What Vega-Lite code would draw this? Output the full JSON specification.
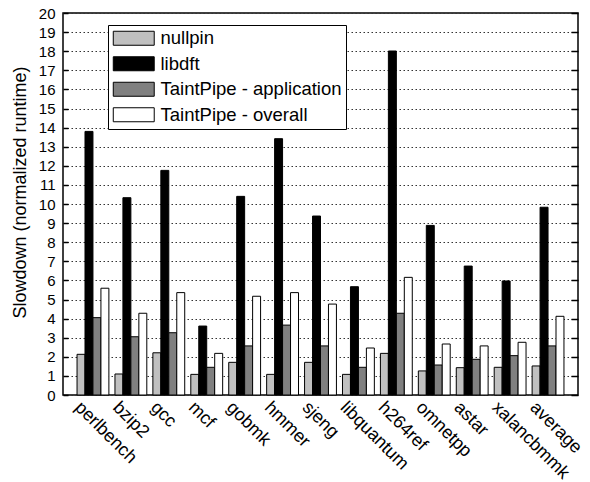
{
  "$schema": "https://vega.github.io/schema/vega-lite/v6.json",
  "autosize": {"type": "none"},
  "width": 515,
  "height": 382,
  "padding": {"left": 63, "top": 13, "right": 12, "bottom": 87},
  "background": "white",
  "config": {
    "font": "Liberation Sans",
    "view": {"stroke": "black", "strokeWidth": 1.5},
    "axis": {"labelFont": "Liberation Sans", "titleFont": "Liberation Sans", "labelColor": "black", "titleColor": "black", "titleFontWeight": "normal"}
  },
  "data": {"values": [
    {"bench": "perlbench", "series": "nullpin", "value": 2.13},
    {"bench": "perlbench", "series": "libdft", "value": 13.8},
    {"bench": "perlbench", "series": "TaintPipe - application", "value": 4.05},
    {"bench": "perlbench", "series": "TaintPipe - overall", "value": 5.59},
    {"bench": "bzip2", "series": "nullpin", "value": 1.1},
    {"bench": "bzip2", "series": "libdft", "value": 10.33},
    {"bench": "bzip2", "series": "TaintPipe - application", "value": 3.05},
    {"bench": "bzip2", "series": "TaintPipe - overall", "value": 4.28},
    {"bench": "gcc", "series": "nullpin", "value": 2.21},
    {"bench": "gcc", "series": "libdft", "value": 11.76},
    {"bench": "gcc", "series": "TaintPipe - application", "value": 3.26},
    {"bench": "gcc", "series": "TaintPipe - overall", "value": 5.36},
    {"bench": "mcf", "series": "nullpin", "value": 1.08},
    {"bench": "mcf", "series": "libdft", "value": 3.61},
    {"bench": "mcf", "series": "TaintPipe - application", "value": 1.45},
    {"bench": "mcf", "series": "TaintPipe - overall", "value": 2.18},
    {"bench": "gobmk", "series": "nullpin", "value": 1.71},
    {"bench": "gobmk", "series": "libdft", "value": 10.4},
    {"bench": "gobmk", "series": "TaintPipe - application", "value": 2.57},
    {"bench": "gobmk", "series": "TaintPipe - overall", "value": 5.17},
    {"bench": "hmmer", "series": "nullpin", "value": 1.08},
    {"bench": "hmmer", "series": "libdft", "value": 13.42},
    {"bench": "hmmer", "series": "TaintPipe - application", "value": 3.66},
    {"bench": "hmmer", "series": "TaintPipe - overall", "value": 5.36},
    {"bench": "sjeng", "series": "nullpin", "value": 1.71},
    {"bench": "sjeng", "series": "libdft", "value": 9.37},
    {"bench": "sjeng", "series": "TaintPipe - application", "value": 2.57},
    {"bench": "sjeng", "series": "TaintPipe - overall", "value": 4.76},
    {"bench": "libquantum", "series": "nullpin", "value": 1.08},
    {"bench": "libquantum", "series": "libdft", "value": 5.67},
    {"bench": "libquantum", "series": "TaintPipe - application", "value": 1.45},
    {"bench": "libquantum", "series": "TaintPipe - overall", "value": 2.46},
    {"bench": "h264ref", "series": "nullpin", "value": 2.18},
    {"bench": "h264ref", "series": "libdft", "value": 18.01},
    {"bench": "h264ref", "series": "TaintPipe - application", "value": 4.28},
    {"bench": "h264ref", "series": "TaintPipe - overall", "value": 6.16},
    {"bench": "omnetpp", "series": "nullpin", "value": 1.26},
    {"bench": "omnetpp", "series": "libdft", "value": 8.88},
    {"bench": "omnetpp", "series": "TaintPipe - application", "value": 1.57},
    {"bench": "omnetpp", "series": "TaintPipe - overall", "value": 2.67},
    {"bench": "astar", "series": "nullpin", "value": 1.43},
    {"bench": "astar", "series": "libdft", "value": 6.75},
    {"bench": "astar", "series": "TaintPipe - application", "value": 1.87},
    {"bench": "astar", "series": "TaintPipe - overall", "value": 2.57},
    {"bench": "xalancbmmk", "series": "nullpin", "value": 1.45},
    {"bench": "xalancbmmk", "series": "libdft", "value": 5.97},
    {"bench": "xalancbmmk", "series": "TaintPipe - application", "value": 2.06},
    {"bench": "xalancbmmk", "series": "TaintPipe - overall", "value": 2.76},
    {"bench": "average", "series": "nullpin", "value": 1.52},
    {"bench": "average", "series": "libdft", "value": 9.83},
    {"bench": "average", "series": "TaintPipe - application", "value": 2.57},
    {"bench": "average", "series": "TaintPipe - overall", "value": 4.12}
  ]},
  "encoding": {
    "x": {
      "field": "bench", "type": "nominal", "sort": null,
      "scale": {"paddingInner": 0.16, "paddingOuter": 0.37},
      "axis": {"title": null, "labelAngle": 45, "labelAlign": "left", "labelBaseline": "top", "labelFontSize": 18, "ticks": false, "domain": false, "labelPadding": 3, "labelOffset": -9}
    },
    "y": {
      "field": "value", "type": "quantitative",
      "scale": {"domain": [0, 20], "nice": false}
    }
  },
  "layer": [
    {
      "mark": {"type": "bar", "stroke": "black", "strokeWidth": 1},
      "encoding": {
        "xOffset": {
          "field": "series", "type": "nominal",
          "sort": ["nullpin", "libdft", "TaintPipe - application", "TaintPipe - overall"],
          "scale": {"paddingInner": 0, "paddingOuter": 0}
        },
        "y": {
          "field": "value", "type": "quantitative",
          "scale": {"domain": [0, 20], "nice": false},
          "axis": {
            "title": "Slowdown (normalized runtime)", "titleFontSize": 18, "titleFontWeight": "normal", "titlePadding": 9, "titleY": 179,
            "values": [0,1,2,3,4,5,6,7,8,9,10,11,12,13,14,15,16,17,18,19,20],
            "labelFontSize": 15, "labelPadding": 13, "tickSize": -5, "tickColor": "black", "tickWidth": 1.5,
            "domain": false,
            "grid": true, "gridDash": [1.5, 2.5], "gridColor": "#333333", "gridWidth": 1
          }
        },
        "fill": {
          "field": "series", "type": "nominal",
          "sort": ["nullpin", "libdft", "TaintPipe - application", "TaintPipe - overall"],
          "scale": {"domain": ["nullpin", "libdft", "TaintPipe - application", "TaintPipe - overall"], "range": ["#c0c0c0", "#000000", "#808080", "#ffffff"]},
          "legend": {
            "title": null, "orient": "none", "legendX": 45, "legendY": 12,
            "fillColor": "white", "strokeColor": "black", "padding": 4,
            "labelFontSize": 18.5, "labelFont": "Liberation Sans", "labelColor": "black", "labelLimit": 400,
            "symbolType": "M-2.56,-0.875H2.56V0.875H-2.56Z", "symbolSize": 256,
            "symbolStrokeColor": "black", "symbolStrokeWidth": 1, "symbolOpacity": 1,
            "symbolOffset": 12.5,
            "rowPadding": 6.5, "labelOffset": 17.5
          }
        }
      }
    },
    {
      "mark": {"type": "rule", "opacity": 0},
      "encoding": {
        "y": {
          "field": "value", "type": "quantitative",
          "axis": {
            "orient": "right", "title": null, "labels": false, "grid": false, "domain": false,
            "values": [0,1,2,3,4,5,6,7,8,9,10,11,12,13,14,15,16,17,18,19,20],
            "tickSize": -7, "tickColor": "black", "tickWidth": 1.5
          }
        }
      }
    }
  ],
  "resolve": {"axis": {"y": "independent"}}
}
